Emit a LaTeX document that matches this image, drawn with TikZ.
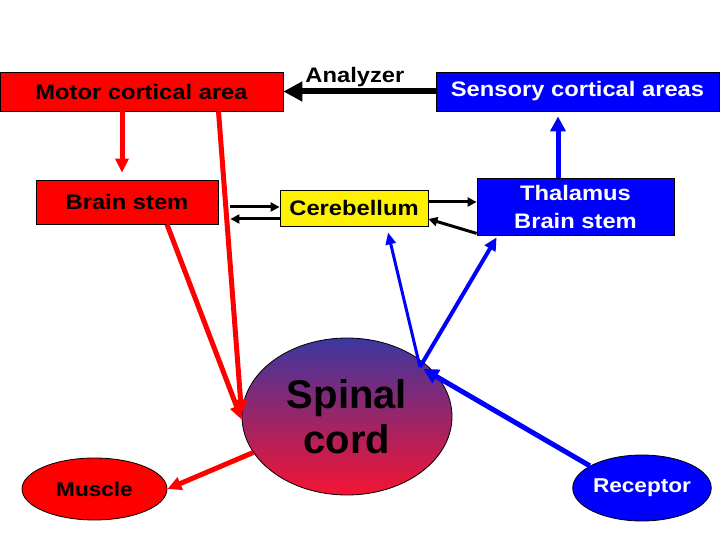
\documentclass[tikz,border=0pt]{standalone}
\usepackage{fontspec}
\setmainfont{Liberation Sans}
\newfontfamily\slidefont{Liberation Sans}[FakeStretch=1.13]
\usetikzlibrary{arrows.meta,shapes.geometric}

\definecolor{cordtop}{RGB}{60,55,160}
\definecolor{cordbottom}{RGB}{245,20,50}

\tikzset{
  box/.style={draw=black, line width=0.8pt, inner sep=0pt, align=center, font=\slidefont\bfseries\fontsize{21}{28}\selectfont},
  redbox/.style={box, fill=red},
  bluebox/.style={box, fill=blue, text=white},
  yellowbox/.style={box, fill=yellow},
  oval/.style={ellipse, draw=black, line width=0.8pt, inner sep=0pt, font=\slidefont\bfseries\fontsize{20}{24}\selectfont},
  redarrow/.style={draw=red, line width=5pt, -{Triangle[length=14pt,width=13pt]}},
  blackarrow/.style={draw=black, line width=3pt, -{Triangle[length=9pt,width=9pt]}},
  bluearrow/.style={draw=blue, line width=5pt, -{Triangle[length=15pt,width=15pt]}},
  bluethin/.style={draw=blue, line width=3pt, -{Triangle[length=12pt,width=10pt]}},
  bluemid/.style={draw=blue, line width=4pt, -{Triangle[length=13pt,width=12pt]}}
}

\begin{document}
\begin{tikzpicture}[x=1pt, y=-1pt]
  \useasboundingbox (0,0) rectangle (720,540);

  \node[redbox, minimum width=283pt, minimum height=39pt] (motor) at (141.5,91.5) {Motor cortical area};
  \node[bluebox, minimum width=283pt, minimum height=39pt] (sensory) at (577.5,91.5) {Sensory cortical areas};
  \node[redbox, minimum width=182pt, minimum height=44pt] (brainstem) at (127,202) {Brain stem};
  \node[yellowbox, minimum width=148pt, minimum height=36pt] (cerebellum) at (354,208) {Cerebellum};
  \node[bluebox, minimum width=197pt, minimum height=57pt] (thalamus) at (575.5,206.5) {Thalamus\\Brain stem};
  \node[ellipse, draw=black, line width=0.8pt, top color=cordtop, bottom color=cordbottom, minimum width=210pt, minimum height=157pt, inner sep=0pt, align=center, font=\bfseries\fontsize{40}{45}\selectfont] (spinal) at (347,416.5) {Spinal\\cord};
  \node[oval, fill=red, minimum width=145pt, minimum height=62pt] (muscle) at (94.5,489) {Muscle};
  \node[oval, fill=blue, text=white, minimum width=118pt, minimum height=66pt] (receptor) at (642,488) {Receptor};

  \coordinate (bsr) at ([xshift=12pt]brainstem.east);
  \coordinate (hub) at ([xshift=73pt,yshift=49.5pt]spinal.center);

  \draw[line width=6pt, -{Triangle[length=19pt,width=19pt]}] (sensory.west) -- node[pos=0.53, above, inner sep=0pt, yshift=2pt, font=\slidefont\bfseries\fontsize{21}{25}\selectfont] (analyzer) {Analyzer} (motor.east);

  \draw[redarrow, shorten >=7pt] ([xshift=-19.5pt]motor.south) -- ([xshift=-5pt]brainstem.north);
  \draw[redarrow] ([xshift=77pt]motor.south) -- ([yshift=3pt]spinal.west);
  \draw[redarrow] ([xshift=40pt]brainstem.south) -- ([yshift=-3pt]spinal.west);
  \draw[redarrow] (spinal.201) -- (muscle.east);

  \draw[blackarrow] ([yshift=1pt]bsr |- cerebellum.west) -- ([yshift=1pt]cerebellum.west);
  \draw[blackarrow] ([yshift=-11pt]cerebellum.west) -- ([yshift=-11pt]bsr |- cerebellum.west);
  \draw[blackarrow] ([yshift=4.5pt]cerebellum.east |- thalamus.west) -- ([yshift=4.5pt]thalamus.west);
  \draw[blackarrow] ([yshift=2pt]thalamus.south west) -- ([yshift=-11pt]cerebellum.east);

  \draw[bluearrow, shorten >=5pt] ([xshift=-17.5pt]thalamus.north) -- ([xshift=-17.5pt]thalamus.north |- sensory.south);
  \draw[bluethin] (hub) -- ([xshift=34pt,yshift=-6pt]cerebellum.south);
  \draw[bluemid] (hub) -- ([xshift=20pt,yshift=-2pt]thalamus.south west);
  \draw[bluearrow, shorten >=4pt] (receptor.157) -- (hub);
\end{tikzpicture}
\end{document}
